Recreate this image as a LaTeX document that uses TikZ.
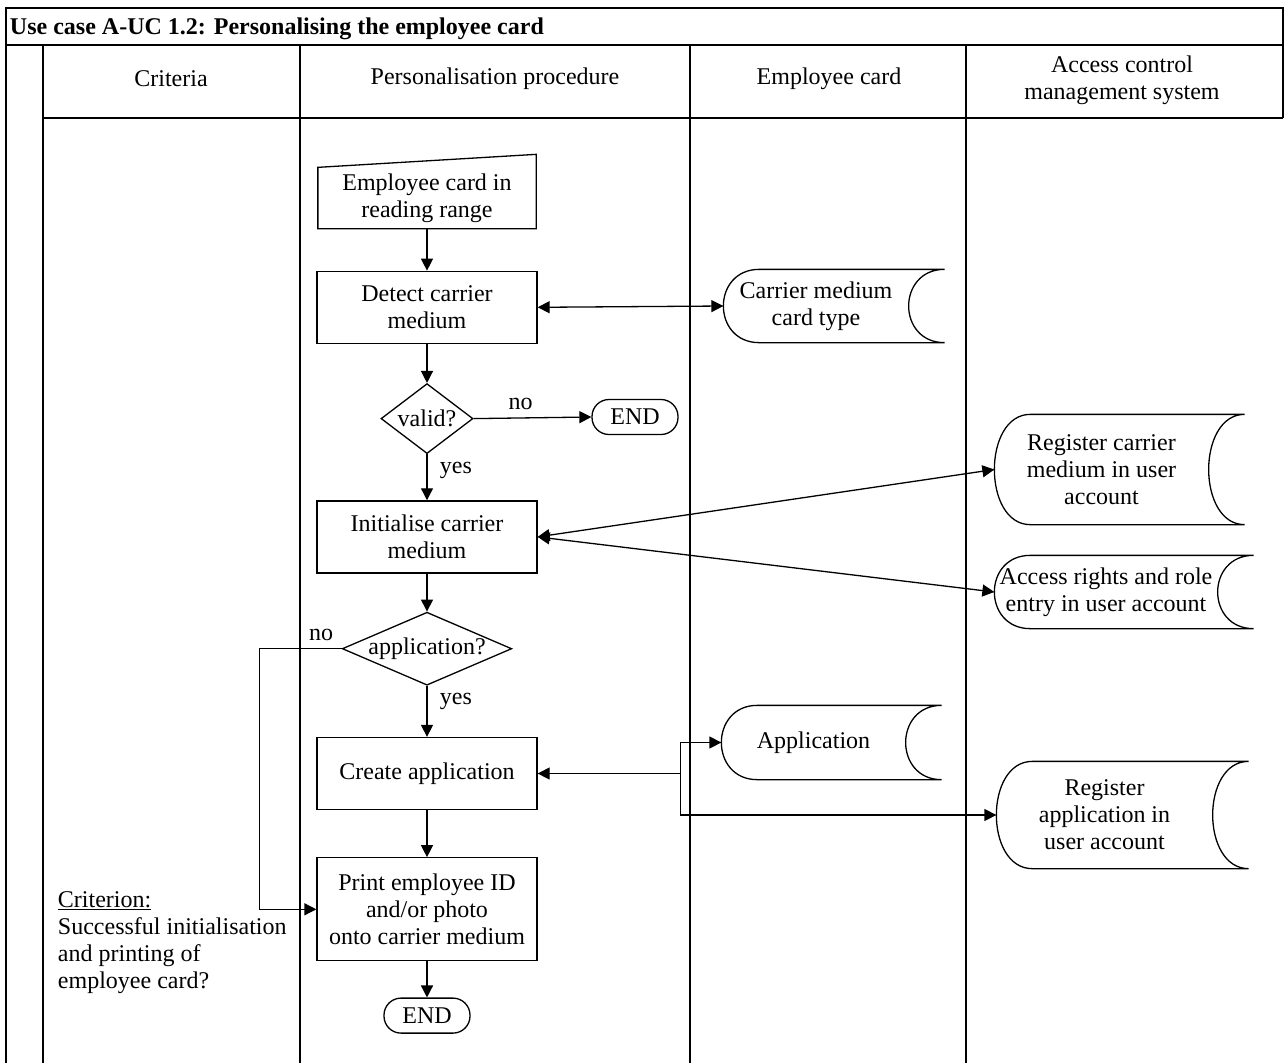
\documentclass[tikz,border=0pt]{standalone}
\usepackage{fontspec}
\setmainfont{Liberation Serif}
\usetikzlibrary{arrows.meta,positioning,shapes.geometric}

% stored-data outline round a node: bulge on the left, hollow on the right
\newcommand{\storeoutline}[1]{%
  \draw ([xshift=36pt]#1.north west) -- ([xshift=36pt]#1.north east)
    .. controls ([xshift=-12pt]#1.north east) and ([xshift=-12pt]#1.south east) .. ([xshift=36pt]#1.south east)
    -- ([xshift=36pt]#1.south west)
    .. controls ([xshift=-12pt]#1.south west) and ([xshift=-12pt]#1.north west) .. ([xshift=36pt]#1.north west);}

\begin{document}
\begin{tikzpicture}[
    x=1pt, y=-1pt,
    font=\fontsize{24}{27}\selectfont,
    line width=1.3pt,
    proc/.style={draw, minimum width=220pt, minimum height=72pt, align=center},
    decide/.style={draw, diamond, inner sep=0pt, align=center},
    term/.style={draw, rounded corners=17pt, minimum width=86pt, minimum height=35pt},
    store/.style={inner sep=0pt, align=center},
    flow/.style={-{Triangle[length=12pt,width=12pt]}},
    both/.style={{Triangle[length=12pt,width=12pt]}-{Triangle[length=12pt,width=12pt]}}
]
\useasboundingbox (0,0) rectangle (1284,1063);

% swimlane table
\draw (6,1063) -- (6,8) -- (1283,8) -- (1283,118);
\draw (6,45) -- (1283,45);
\draw (43,118) -- (1283,118);
\foreach \lx in {43,300,690,966}
  \draw (\lx,45) -- (\lx,1063);

\node[anchor=west, font=\fontsize{24}{27}\selectfont\bfseries] (title) at (6,29) {Use case A-UC 1.2: Personalising the employee card};
\node (hcrit) at (171,79) {Criteria};
\node (hproc) at (495,79) {Personalisation procedure};
\node (hcard) at (829,79) {Employee card};
\node[align=center] (hacs) at (1122,80) {Access control\\management system};

% procedure column
\node[minimum width=217pt, minimum height=60pt, align=center] (in) at (427,198) {Employee card in\\reading range};
\draw (in.south west) -- (in.south east) -- ([yshift=13pt]in.north east) -- (in.north west) -- cycle;
\node[proc, below=42pt of in] (detect) {Detect carrier\\medium};
\node[decide, aspect=1.3, minimum width=92pt, minimum height=70pt, below=39pt of detect] (valid) {valid?};
\node[term] (end1) at (635,417) {END};
\node[proc, below=46pt of valid] (init) {Initialise carrier\\medium};
\node[decide, aspect=2.4, minimum width=164pt, minimum height=73pt, below=38pt of init] (appq) {application?};
\node[proc, below=51pt of appq] (create) {Create application};
\node[proc, minimum height=103pt, below=47pt of create] (print) {Print employee ID\\and/or photo\\onto carrier medium};
\node[term, below=36pt of print] (end2) {END};

% data held on the card and in the access control system
\node[store, minimum width=184pt, minimum height=72pt] (carrier) at (816,306) {Carrier medium\\card type};
\node[store, minimum width=213pt, minimum height=109pt] (regcar) at (1101.5,469.5) {Register carrier\\medium in user\\account};
\node[store, minimum width=222pt, minimum height=72pt] (rights) at (1106,592) {Access rights and role\\entry in user account};
\node[store, minimum width=183pt, minimum height=73pt] (appstore) at (813.5,742.5) {Application};
\node[store, minimum width=215pt, minimum height=106pt] (regapp) at (1104.5,815) {Register\\application in\\user account};
\foreach \s in {carrier,regcar,rights,appstore,regapp}
  {\storeoutline{\s}}

\node[align=left, anchor=west] (crit) at (54,943) {\underline{Criterion:}\\Successful initialisation\\and printing of\\employee card?};

% connectors
\draw[flow] (in) -- (detect);
\draw[both] (detect.east) -- (carrier.west);
\draw[flow] (detect) -- (valid);
\draw[flow] (valid.east) -- node[pos=0.4, above=4pt] {no} (end1.west);
\draw[flow] (valid) -- node[pos=0.35, right=9pt] {yes} (init);
\draw[both] (init.east) -- (regcar.west);
\draw[both] (init.east) -- (rights.west);
\draw[flow] (init) -- (appq);
\coordinate (detour) at ([xshift=-82pt]appq.west);
\draw[flow] (appq.west) -- node[pos=0.25, above=4pt] {no} (detour) |- (print.west);
\draw[flow] (appq) -- node[pos=0.3, right=9pt] {yes} (create);
\coordinate (fork) at ([xshift=143pt]create.east);
\draw[flow] (fork) -- (create.east);
\draw[flow] (fork) |- (appstore.west);
\draw[flow] (fork) |- (regapp.west);
\draw[flow] (create) -- (print);
\draw[flow] (print) -- (end2);
\end{tikzpicture}
\end{document}
